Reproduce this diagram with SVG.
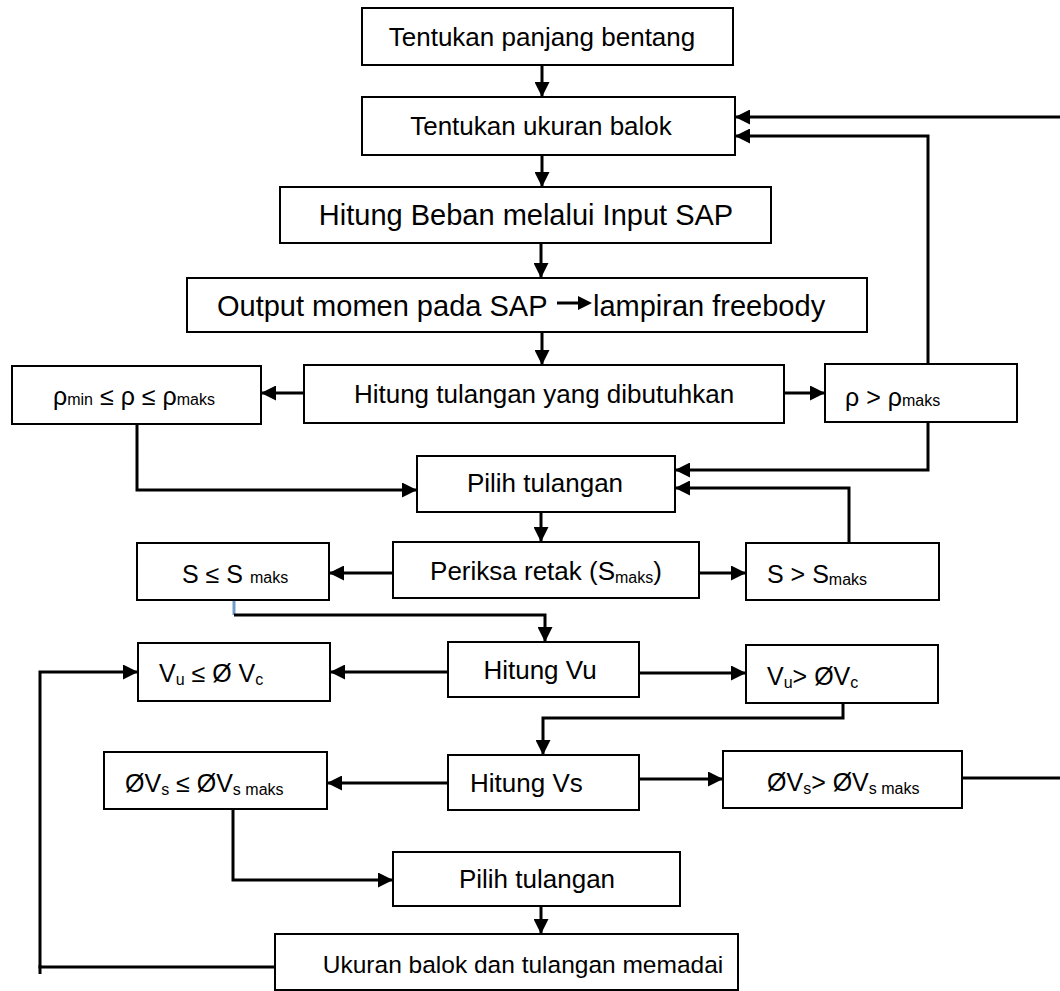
<svg xmlns="http://www.w3.org/2000/svg" width="1060" height="991" viewBox="0 0 1060 991">
<style>
.box{fill:#fff;stroke:#000;stroke-width:2}
.t{font-family:"Liberation Sans",Arial,sans-serif;font-size:26px;fill:#000}
.m{font-size:25px}
.b{font-size:29px}
.u{font-size:24.5px}
.s{font-size:16px}
.c{text-anchor:middle}
.ln{fill:none;stroke:#000;stroke-width:3}
.ar{fill:none;stroke:#000;stroke-width:3;marker-end:url(#ah)}
</style>
<defs>
<marker id="ah" markerUnits="userSpaceOnUse" markerWidth="15" markerHeight="15" refX="14" refY="7.5" orient="auto">
<path d="M0,0 L15,7.5 L0,15 z" fill="#000"/>
</marker>
</defs>
<rect width="1060" height="991" fill="#fff"/>
<g id="connectors">
<path class="ar" d="M542,65 V96"/>
<path class="ar" d="M542,155 V186"/>
<path class="ar" d="M541,243 V277"/>
<path class="ar" d="M542,332 V364"/>
<path class="ar" d="M304,393 H262"/>
<path class="ar" d="M784,393 H824"/>
<path class="ar" d="M1060,117 H736"/>
<path class="ar" d="M928,364 V136 H736"/>
<path class="ar" d="M137,424 V490 H416"/>
<path class="ar" d="M928,422 V470 H676"/>
<path class="ar" d="M849,543 V488 H676"/>
<path class="ar" d="M541,512 V541"/>
<path class="ar" d="M393,573 H330"/>
<path class="ar" d="M699,573 H745"/>
<path d="M234,600 V615" fill="none" stroke="#6f9ccb" stroke-width="3"/>
<path class="ar" d="M234,615 H545 V641"/>
<path class="ar" d="M448,672 H331"/>
<path class="ar" d="M639,673 H745"/>
<path class="ar" d="M843,703 V718 H543 V754"/>
<path class="ar" d="M448,783 H328"/>
<path class="ar" d="M639,779 H722"/>
<path class="ln" d="M962,778 H1060"/>
<path class="ar" d="M233,809 V880 H392"/>
<path class="ar" d="M541,906 V933"/>
<path class="ar" d="M275,967 H40 V672 H137"/>
<path class="ln" d="M40,965 V974"/>
</g>
<g id="n1"><rect class="box" x="362" y="8" width="371" height="57"/><text class="t c" x="542" y="46">Tentukan panjang bentang</text></g>
<g id="n2"><rect class="box" x="362" y="97" width="373" height="58"/><text class="t c" x="541" y="135">Tentukan ukuran balok</text></g>
<g id="n3"><rect class="box" x="280" y="187" width="491" height="56"/><text class="t b c" x="526" y="225">Hitung Beban melalui Input SAP</text></g>
<g id="n4"><rect class="box" x="187" y="278" width="680" height="54"/>
<text class="t b" x="217" y="316">Output momen pada SAP</text>
<path d="M557,303 H580" stroke="#000" stroke-width="3"/><path d="M578,296 L592,303 L578,310 z" fill="#000"/>
<text class="t b" x="593" y="316">lampiran freebody</text></g>
<g id="n5"><rect class="box" x="304" y="365" width="480" height="58"/><text class="t c" x="544" y="403">Hitung tulangan yang dibutuhkan</text></g>
<g id="n6"><rect class="box" x="12" y="366" width="249" height="58"/><text class="t m" x="53" y="405">ρ<tspan class="s">min</tspan> ≤ ρ ≤ ρ<tspan class="s">maks</tspan></text></g>
<g id="n7"><rect class="box" x="825" y="364" width="192" height="58"/><text class="t m" x="845" y="406">ρ &gt; ρ<tspan class="s">maks</tspan></text></g>
<g id="n8"><rect class="box" x="417" y="456" width="258" height="56"/><text class="t c" x="545" y="492">Pilih tulangan</text></g>
<g id="n9"><rect class="box" x="393" y="542" width="306" height="56"/><text class="t c" x="546" y="580">Periksa retak (S<tspan class="s" dy="3">maks</tspan><tspan dy="-3">)</tspan></text></g>
<g id="n10"><rect class="box" x="137" y="543" width="192" height="57"/><text class="t m" x="182" y="583">S ≤ S <tspan class="s">maks</tspan></text></g>
<g id="n11"><rect class="box" x="746" y="543" width="193" height="57"/><text class="t m" x="767" y="583">S &gt; S<tspan class="s" dy="2">maks</tspan></text></g>
<g id="n12"><rect class="box" x="448" y="642" width="191" height="55"/><text class="t c" x="540" y="679">Hitung Vu</text></g>
<g id="n13"><rect class="box" x="138" y="643" width="192" height="58"/><text class="t m" x="159" y="682">V<tspan class="s" dy="3">u</tspan><tspan dy="-3"> ≤ Ø V</tspan><tspan class="s" dy="3">c</tspan></text></g>
<g id="n14"><rect class="box" x="746" y="645" width="192" height="58"/><text class="t m" x="767" y="685">V<tspan class="s" dy="3">u</tspan><tspan dy="-3">&gt; ØV</tspan><tspan class="s" dy="3">c</tspan></text></g>
<g id="n15"><rect class="box" x="448" y="755" width="191" height="55"/><text class="t" x="470" y="792">Hitung Vs</text></g>
<g id="n16"><rect class="box" x="104" y="752" width="223" height="57"/><text class="t m" x="125" y="792">ØV<tspan class="s" dy="3">s</tspan><tspan dy="-3"> ≤ ØV</tspan><tspan class="s" dy="3">s maks</tspan></text></g>
<g id="n17"><rect class="box" x="723" y="751" width="239" height="57"/><text class="t m" x="767" y="791">ØV<tspan class="s" dy="3">s</tspan><tspan dy="-3">&gt; ØV</tspan><tspan class="s" dy="3">s maks</tspan></text></g>
<g id="n18"><rect class="box" x="393" y="852" width="287" height="54"/><text class="t c" x="537" y="888">Pilih tulangan</text></g>
<g id="n19"><rect class="box" x="275" y="934" width="463" height="56"/><text class="t u c" x="523" y="973">Ukuran balok dan tulangan memadai</text></g>
</svg>
